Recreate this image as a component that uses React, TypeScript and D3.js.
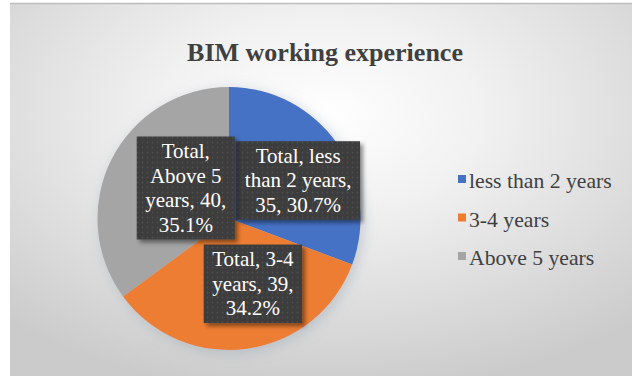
import React, { useMemo } from 'react';
import * as d3 from 'd3';

const title = 'BIM working experience';
const seriesName = 'Total';
const categories = ['less than 2 years', '3-4 years', 'Above 5 years'];
const values = [35, 39, 40];
const colors = ['#4472C4', '#ED7D31', '#A5A5A5'];

// layout (not data)
const W = 632;
const H = 377;
const CX = 229;
const CY = 218.5;
const R = 131.5;
const LABEL_FONT = 21;
const LEGEND_FONT = 21.7;
const LINE_H = 24.5;
const wrapWidths = [115, 88, 88];
const labelRadius = 72;
const labelNudge: [number, number][] = [[10, 3], [14, -6], [21, 2]];
const FONT = "'Liberation Serif', 'Times New Roman', serif";

function measure(text: string, size: number): number {
  const c = document.createElement('canvas').getContext('2d');
  if (!c) return text.length * size * 0.45;
  c.font = `${size}px ${FONT}`;
  return c.measureText(text).width;
}

function wrap(text: string, maxW: number, size: number): string[] {
  const words = text.split(' ');
  const lines: string[] = [];
  let cur = '';
  for (const w of words) {
    const t = cur ? cur + ' ' + w : w;
    if (cur && measure(t, size) > maxW) {
      lines.push(cur);
      cur = w;
    } else cur = t;
  }
  if (cur) lines.push(cur);
  return lines;
}

export default function App() {
  const total = d3.sum(values);
  const pie = d3.pie<number>().sort(null).value((d) => d)(values);
  const arc = d3.arc<d3.PieArcDatum<number>>().innerRadius(0).outerRadius(R);
  const labelArc = d3.arc<d3.PieArcDatum<number>>().innerRadius(labelRadius).outerRadius(labelRadius);
  const pct = d3.format('.1%');

  const labels = useMemo(
    () =>
      pie.map((p, i) => {
        const text = `${seriesName}, ${categories[i]}, ${values[i]}, ${pct(values[i] / total)}`;
        const lines = wrap(text, wrapWidths[i], LABEL_FONT);
        const maxW = d3.max(lines, (l) => measure(l, LABEL_FONT)) || 0;
        const [x, y] = labelArc.centroid(p);
        const bw = maxW + 17;
        const bh = lines.length * LINE_H + 5;
        return { lines, cx: CX + x + labelNudge[i][0], cy: CY + y + labelNudge[i][1], bw, bh };
      }),
    []
  );

  const legendY = d3.scalePoint<string>().domain(categories).range([179, 256]);

  return (
    <svg width={W} height={H} style={{ position: 'absolute', left: 0, top: 0 }} fontFamily={FONT}>
      <defs>
        <radialGradient id="bg" cx="50%" cy="30%" r="75%">
          <stop offset="0%" stopColor="#ffffff" />
          <stop offset="35%" stopColor="#f1f1f1" />
          <stop offset="100%" stopColor="#cbcbcb" />
        </radialGradient>
        <pattern id="dots" width="5" height="5" patternUnits="userSpaceOnUse">
          <rect width="5" height="5" fill="#3d3d3d" />
          <circle cx="2.5" cy="2.5" r="0.9" fill="#4d4d4d" />
        </pattern>
        <filter id="pieShadow" x="-20%" y="-20%" width="140%" height="140%">
          <feGaussianBlur in="SourceAlpha" stdDeviation="7" />
          <feOffset dx="3" dy="3" result="b" />
          <feFlood floodColor="#8a9aaa" floodOpacity="0.4" />
          <feComposite in2="b" operator="in" />
          <feMerge>
            <feMergeNode />
            <feMergeNode in="SourceGraphic" />
          </feMerge>
        </filter>
        <filter id="boxShadow" x="-20%" y="-20%" width="140%" height="140%">
          <feGaussianBlur in="SourceAlpha" stdDeviation="2" />
          <feOffset dx="3" dy="3" result="b" />
          <feFlood floodColor="#000" floodOpacity="0.45" />
          <feComposite in2="b" operator="in" />
          <feMerge>
            <feMergeNode />
            <feMergeNode in="SourceGraphic" />
          </feMerge>
        </filter>
      </defs>
      <rect x={0} y={0} width={W} height={H} fill="#ffffff" />
      <rect x={10} y={3} width={W - 10} height={H - 4} fill="url(#bg)" />
      <line x1={10} x2={W} y1={3.5} y2={3.5} stroke="#bdbdbd" strokeWidth={1.5} />

      <text x={325} y={52} textAnchor="middle" dominantBaseline="central" fontSize={26} fontWeight="bold" fill="#404040">
        {title}
      </text>

      <g transform={`translate(${CX},${CY})`} filter="url(#pieShadow)">
        {pie.map((p, i) => (
          <path key={i} d={arc(p) || ''} fill={colors[i]} />
        ))}
      </g>

      {labels.map((l, i) => (
        <g key={i}>
          <rect
            x={l.cx - l.bw / 2}
            y={l.cy - l.bh / 2}
            width={l.bw}
            height={l.bh}
            fill="url(#dots)"
            filter="url(#boxShadow)"
          />
          {l.lines.map((line, j) => (
            <text
              key={j}
              x={l.cx}
              y={l.cy - l.bh / 2 + 2.5 + LINE_H / 2 + j * LINE_H}
              dy="0.33em"
              textAnchor="middle"
              fontSize={LABEL_FONT}
              fill="#ffffff"
            >
              {line}
            </text>
          ))}
        </g>
      ))}

      {categories.map((c, i) => (
        <g key={c}>
          <rect x={458} y={(legendY(c) || 0) - 4} width={8} height={8} fill={colors[i]} />
          <text x={469} y={(legendY(c) || 0) + 2} dy="0.33em" fontSize={LEGEND_FONT} fill="#404040">
            {c}
          </text>
        </g>
      ))}
    </svg>
  );
}
